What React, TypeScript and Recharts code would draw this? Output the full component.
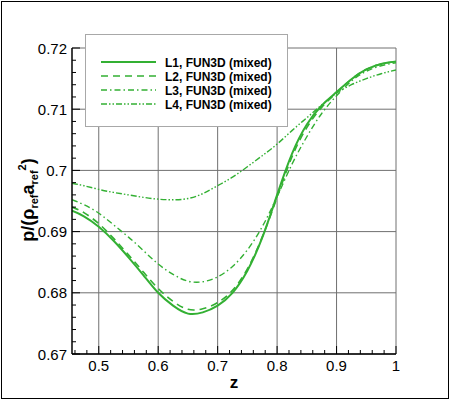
import React from 'react';
import { LineChart, Line, XAxis, YAxis, CartesianGrid, Legend } from 'recharts';

const zValues = [
  0.455, 0.475, 0.5, 0.525, 0.55, 0.575, 0.6, 0.625, 0.65, 0.675, 0.7, 0.725,
  0.75, 0.775, 0.8, 0.825, 0.85, 0.875, 0.9, 0.925, 0.95, 0.975, 1.0,
];
const l1Values = [
  0.6934, 0.6925, 0.6908, 0.6885, 0.6858, 0.6829, 0.68, 0.6779, 0.6766, 0.6768, 0.6779, 0.68,
  0.6836, 0.689, 0.696, 0.7027, 0.7075, 0.7106, 0.7128, 0.7149, 0.7165, 0.7174, 0.7178,
];
const l2Values = [
  0.694, 0.6931, 0.6913, 0.6889, 0.6862, 0.6834, 0.6807, 0.6786, 0.6773, 0.6774, 0.6784, 0.6804,
  0.6839, 0.6891, 0.6956, 0.7022, 0.707, 0.7103, 0.7127, 0.7149, 0.7165, 0.7174, 0.7178,
];
const l3Values = [
  0.6952, 0.6944, 0.693, 0.6911, 0.6891, 0.6869, 0.6847, 0.683, 0.6819, 0.6818, 0.6826, 0.6843,
  0.687, 0.6908, 0.6957, 0.701, 0.7055, 0.7093, 0.7122, 0.7146, 0.7162, 0.7171, 0.7176,
];
const l4Values = [
  0.6979, 0.6975, 0.6969, 0.6964, 0.696, 0.6956, 0.6953, 0.6952, 0.6954, 0.6962, 0.6975, 0.6989,
  0.7006, 0.7024, 0.7043, 0.7065, 0.7086, 0.7107, 0.7126, 0.714, 0.715, 0.7158, 0.7164,
];

const seriesNames = [
  'L1, FUN3D (mixed)',
  'L2, FUN3D (mixed)',
  'L3, FUN3D (mixed)',
  'L4, FUN3D (mixed)',
];

const xMajorTicks = [0.5, 0.6, 0.7, 0.8, 0.9, 1];
const xAllTicks = [
  0.46, 0.48, 0.5, 0.52, 0.54, 0.56, 0.58, 0.6, 0.62, 0.64, 0.66, 0.68, 0.7, 0.72,
  0.74, 0.76, 0.78, 0.8, 0.82, 0.84, 0.86, 0.88, 0.9, 0.92, 0.94, 0.96, 0.98, 1,
];
const yMajorTicks = [0.67, 0.68, 0.69, 0.7, 0.71, 0.72];
const yAllTicks = [
  0.67, 0.672, 0.674, 0.676, 0.678, 0.68, 0.682, 0.684, 0.686, 0.688, 0.69, 0.692, 0.694,
  0.696, 0.698, 0.7, 0.702, 0.704, 0.706, 0.708, 0.71, 0.712, 0.714, 0.716, 0.718, 0.72,
];

const data = zValues.map((z, i) => ({
  z,
  l1: l1Values[i],
  l2: l2Values[i],
  l3: l3Values[i],
  l4: l4Values[i],
}));

const GREEN = '#33b033';
const FONT = '"Liberation Sans", Arial, Helvetica, sans-serif';

const series = [
  { key: 'l1', name: seriesNames[0], dash: undefined, width: 2 },
  { key: 'l2', name: seriesNames[1], dash: '7 5', width: 1.6 },
  { key: 'l3', name: seriesNames[2], dash: '6 3 1.5 3', width: 1.4 },
  { key: 'l4', name: seriesNames[3], dash: '6 2 1.5 2 1.5 2', width: 1.4 },
];

const isMajor = (v: number, majors: number[]) =>
  majors.some((m) => Math.abs(m - v) < 1e-6);

const fmt = (v: number) => String(Number(v.toFixed(2)));

// tickSize/tickMargin are 0, so x is the axis line itself
const YTick = (props: any) => {
  const { x, y, payload } = props;
  const major = isMajor(payload.value, yMajorTicks);
  return (
    <g>
      <line x1={x} x2={x + (major ? 8 : 4)} y1={y} y2={y} stroke="#000" strokeWidth={1} />
      {major && (
        <text x={x - 5} y={y + 5.5} textAnchor="end" fontSize={15} fontFamily={FONT} fill="#000">
          {fmt(payload.value)}
        </text>
      )}
    </g>
  );
};

const XTick = (props: any) => {
  const { x, y, payload } = props;
  const major = isMajor(payload.value, xMajorTicks);
  return (
    <g>
      <line x1={x} x2={x} y1={y} y2={y - (major ? 8 : 4)} stroke="#000" strokeWidth={1} />
      {major && (
        <text x={x} y={y + 17} textAnchor="middle" fontSize={15} fontFamily={FONT} fill="#000">
          {fmt(payload.value)}
        </text>
      )}
    </g>
  );
};

const LegendBox = () => (
  <div
    style={{
      width: 203,
      height: 93,
      boxSizing: 'border-box',
      border: '1.5px solid #a8a8a8',
      background: '#fff',
    }}
  >
    <svg width={200} height={90} style={{ display: 'block' }}>
      {series.map((s, i) => {
        const cy = 27 + i * 14;
        return (
          <g key={s.key}>
            <line
              x1={15}
              x2={70}
              y1={cy}
              y2={cy}
              stroke={GREEN}
              strokeWidth={s.width}
              strokeDasharray={s.dash}
            />
            <text x={79} y={cy + 4.5} fontSize={12} fontWeight="bold" fontFamily={FONT} fill="#000">
              {s.name}
            </text>
          </g>
        );
      })}
    </svg>
  </div>
);

export default function App() {
  return (
    <div style={{ position: 'absolute', left: 0, top: 0, width: 450, height: 400, background: '#fff' }}>
      <LineChart
        width={450}
        height={400}
        data={data}
        margin={{ top: 48, right: 54, bottom: 45, left: 71 }}
      >
        <CartesianGrid
          stroke="#707070"
          strokeWidth={1}
          horizontalValues={yMajorTicks}
          verticalValues={xMajorTicks}
        />
        {series.map((s) => (
          <Line
            key={s.key}
            dataKey={s.key}
            name={s.name}
            type="natural"
            stroke={GREEN}
            strokeWidth={s.width}
            strokeDasharray={s.dash}
            dot={false}
            activeDot={false}
            isAnimationActive={false}
          />
        ))}
        <XAxis
          dataKey="z"
          type="number"
          domain={[0.455, 1]}
          ticks={xAllTicks}
          interval={0}
          height={1}
          tickSize={0}
          tickMargin={0}
          tickLine={false}
          tick={XTick}
          axisLine={{ stroke: '#000', strokeWidth: 1.5 }}
          allowDataOverflow
        />
        <YAxis
          type="number"
          domain={[0.67, 0.72]}
          ticks={yAllTicks}
          interval={0}
          width={1}
          tickSize={0}
          tickMargin={0}
          tickLine={false}
          tick={YTick}
          axisLine={{ stroke: '#000', strokeWidth: 1.5 }}
          allowDataOverflow
        />
        <Legend
          layout="vertical"
          align="center"
          verticalAlign="middle"
          wrapperStyle={{ position: 'absolute', left: 85, top: 34, width: 203, height: 93 }}
          content={() => <LegendBox />}
        />
        <text x={234} y={388} textAnchor="middle" fontSize={17} fontWeight="bold" fontFamily={FONT} fill="#000">
          z
        </text>
        <text
          transform="rotate(-90)"
          x={-200}
          y={34}
          textAnchor="middle"
          fontSize={18}
          fontWeight="bold"
          fontFamily={FONT}
          fill="#000"
        >
          p/(ρ
          <tspan fontSize={11} dy={4}>ref</tspan>
          <tspan dy={-4}>a</tspan>
          <tspan fontSize={11} dy={4}>ref</tspan>
          <tspan fontSize={11} dy={-12}>2</tspan>
          <tspan dy={8}>)</tspan>
        </text>
      </LineChart>
      <div
        style={{
          position: 'absolute',
          left: 1,
          top: 1,
          width: 448,
          height: 398,
          boxSizing: 'border-box',
          border: '1.5px solid #000',
          pointerEvents: 'none',
        }}
      />
    </div>
  );
}
